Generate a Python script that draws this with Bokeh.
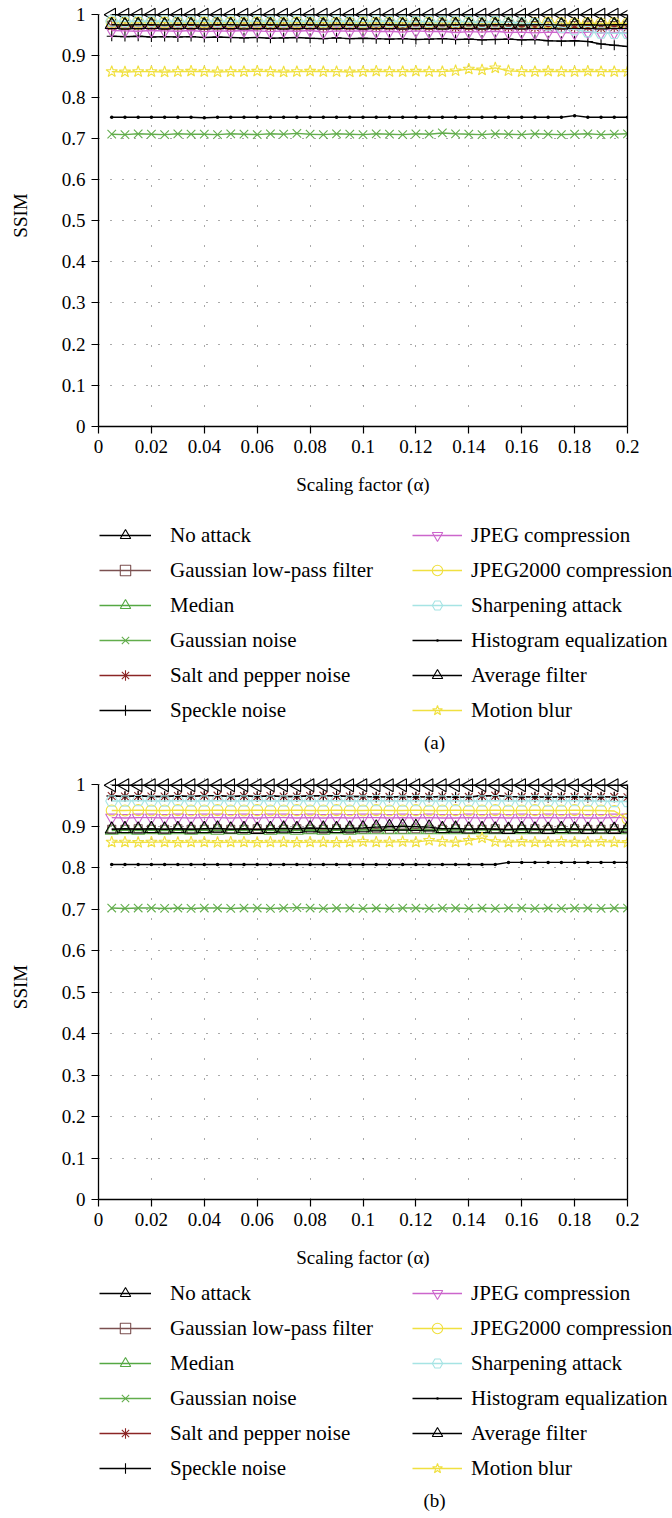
import math
import numpy as np
from bokeh.plotting import figure
from bokeh.models import Range1d, FixedTicker, LinearAxis, Legend, LegendItem, Title, ColumnDataSource
from bokeh.layouts import column
from bokeh.embed import file_html
from bokeh.resources import INLINE

# ---------------- data ----------------
alpha = [0.005, 0.010, 0.015, 0.020, 0.025, 0.030, 0.035, 0.040, 0.045, 0.050,
         0.055, 0.060, 0.065, 0.070, 0.075, 0.080, 0.085, 0.090, 0.095, 0.100,
         0.105, 0.110, 0.115, 0.120, 0.125, 0.130, 0.135, 0.140, 0.145, 0.150,
         0.155, 0.160, 0.165, 0.170, 0.175, 0.180, 0.185, 0.190, 0.195, 0.200]

x_ticks = [0, 0.02, 0.04, 0.06, 0.08, 0.1, 0.12, 0.14, 0.16, 0.18, 0.2]
x_tick_labels = ["0", "0.02", "0.04", "0.06", "0.08", "0.1", "0.12", "0.14", "0.16", "0.18", "0.2"]
y_ticks = [0, 0.1, 0.2, 0.3, 0.4, 0.5, 0.6, 0.7, 0.8, 0.9, 1.0]
y_tick_labels = ["0", "0.1", "0.2", "0.3", "0.4", "0.5", "0.6", "0.7", "0.8", "0.9", "1"]

series_names = ["No attack", "Gaussian low-pass filter", "Median", "Gaussian noise",
                "Salt and pepper noise", "Speckle noise", "JPEG compression",
                "JPEG2000 compression", "Sharpening attack", "Histogram equalization",
                "Average filter", "Motion blur"]

# panel (a)
a_no_attack = [1.000, 1.000, 1.000, 1.000, 1.000, 1.000, 1.000, 1.000, 1.000, 1.000,
               1.000, 1.000, 1.000, 1.000, 1.000, 1.000, 1.000, 1.000, 1.000, 1.000,
               1.000, 1.000, 1.000, 1.000, 1.000, 1.000, 1.000, 1.000, 1.000, 1.000,
               1.000, 1.000, 1.000, 1.000, 1.000, 1.000, 1.000, 1.000, 1.000, 1.000]
a_glpf = [0.975, 0.974, 0.975, 0.975, 0.974, 0.975, 0.974, 0.975, 0.975, 0.974,
          0.975, 0.974, 0.975, 0.975, 0.974, 0.975, 0.975, 0.974, 0.975, 0.974,
          0.975, 0.975, 0.974, 0.975, 0.974, 0.975, 0.975, 0.974, 0.975, 0.974,
          0.974, 0.975, 0.974, 0.975, 0.974, 0.974, 0.975, 0.974, 0.974, 0.975]
a_median = [0.976, 0.976, 0.975, 0.976, 0.976, 0.975, 0.976, 0.976, 0.975, 0.976,
            0.976, 0.975, 0.976, 0.976, 0.975, 0.976, 0.976, 0.975, 0.976, 0.976,
            0.975, 0.976, 0.976, 0.975, 0.976, 0.975, 0.976, 0.976, 0.975, 0.976,
            0.975, 0.976, 0.975, 0.976, 0.975, 0.975, 0.976, 0.975, 0.975, 0.976]
a_gauss_noise = [0.710, 0.709, 0.711, 0.710, 0.709, 0.711, 0.710, 0.710, 0.709, 0.711,
                 0.710, 0.709, 0.711, 0.710, 0.712, 0.710, 0.709, 0.711, 0.710, 0.709,
                 0.711, 0.710, 0.709, 0.711, 0.710, 0.713, 0.711, 0.710, 0.709, 0.711,
                 0.710, 0.709, 0.711, 0.710, 0.709, 0.710, 0.711, 0.709, 0.710, 0.711]
a_salt_pepper = [0.972, 0.971, 0.973, 0.972, 0.970, 0.972, 0.973, 0.971, 0.972, 0.970,
                 0.972, 0.973, 0.971, 0.972, 0.970, 0.972, 0.971, 0.973, 0.972, 0.970,
                 0.971, 0.972, 0.970, 0.973, 0.971, 0.972, 0.969, 0.971, 0.970, 0.972,
                 0.970, 0.971, 0.969, 0.970, 0.971, 0.969, 0.970, 0.968, 0.970, 0.969]
a_speckle = [0.948, 0.947, 0.948, 0.946, 0.947, 0.946, 0.947, 0.945, 0.946, 0.945,
             0.944, 0.945, 0.943, 0.944, 0.945, 0.943, 0.942, 0.944, 0.942, 0.943,
             0.942, 0.941, 0.942, 0.940, 0.941, 0.942, 0.940, 0.941, 0.939, 0.940,
             0.941, 0.939, 0.940, 0.937, 0.936, 0.937, 0.935, 0.929, 0.926, 0.923]
a_jpeg = [0.962, 0.961, 0.960, 0.962, 0.961, 0.960, 0.962, 0.959, 0.961, 0.960,
          0.962, 0.961, 0.959, 0.961, 0.960, 0.962, 0.958, 0.961, 0.960, 0.961,
          0.959, 0.960, 0.958, 0.961, 0.959, 0.960, 0.957, 0.959, 0.958, 0.960,
          0.957, 0.958, 0.956, 0.958, 0.957, 0.956, 0.958, 0.956, 0.957, 0.956]
a_jpeg2000 = [0.981, 0.980, 0.981, 0.980, 0.981, 0.980, 0.980, 0.981, 0.980, 0.981,
              0.980, 0.981, 0.980, 0.980, 0.981, 0.980, 0.981, 0.980, 0.980, 0.981,
              0.980, 0.981, 0.980, 0.980, 0.981, 0.980, 0.980, 0.981, 0.980, 0.980,
              0.981, 0.980, 0.980, 0.981, 0.980, 0.979, 0.980, 0.979, 0.980, 0.979]
a_sharpening = [0.985, 0.984, 0.985, 0.984, 0.985, 0.984, 0.984, 0.985, 0.984, 0.985,
                0.984, 0.985, 0.984, 0.984, 0.985, 0.984, 0.984, 0.985, 0.984, 0.984,
                0.985, 0.984, 0.984, 0.983, 0.984, 0.983, 0.984, 0.983, 0.982, 0.983,
                0.982, 0.980, 0.978, 0.975, 0.970, 0.964, 0.959, 0.956, 0.955, 0.955]
a_hist_eq = [0.751, 0.751, 0.751, 0.751, 0.751, 0.751, 0.751, 0.750, 0.751, 0.751,
             0.751, 0.751, 0.751, 0.751, 0.751, 0.751, 0.751, 0.751, 0.751, 0.751,
             0.751, 0.751, 0.751, 0.751, 0.751, 0.751, 0.751, 0.751, 0.751, 0.751,
             0.751, 0.751, 0.751, 0.751, 0.751, 0.755, 0.751, 0.751, 0.751, 0.751]
a_average = [0.976, 0.975, 0.976, 0.976, 0.975, 0.976, 0.976, 0.975, 0.976, 0.976,
             0.975, 0.976, 0.976, 0.975, 0.976, 0.976, 0.975, 0.976, 0.976, 0.975,
             0.976, 0.976, 0.975, 0.976, 0.976, 0.975, 0.976, 0.976, 0.975, 0.976,
             0.976, 0.975, 0.976, 0.976, 0.975, 0.976, 0.976, 0.975, 0.976, 0.976]
a_motion_blur = [0.862, 0.861, 0.862, 0.862, 0.861, 0.862, 0.863, 0.862, 0.861, 0.862,
                 0.862, 0.863, 0.862, 0.861, 0.862, 0.863, 0.862, 0.862, 0.861, 0.862,
                 0.863, 0.862, 0.862, 0.863, 0.862, 0.862, 0.864, 0.868, 0.866, 0.871,
                 0.864, 0.862, 0.862, 0.863, 0.862, 0.862, 0.863, 0.862, 0.862, 0.862]

# panel (b)
b_no_attack = [0.999, 0.999, 0.999, 0.999, 0.999, 0.999, 0.999, 0.999, 0.999, 0.999,
               0.999, 0.999, 0.999, 0.999, 0.999, 0.999, 0.999, 0.999, 0.999, 0.999,
               0.999, 0.999, 0.999, 0.999, 0.999, 0.999, 0.999, 0.999, 0.999, 0.999,
               0.999, 0.999, 0.999, 0.999, 0.999, 0.999, 0.999, 0.999, 0.999, 0.999]
b_glpf = [0.893, 0.893, 0.894, 0.893, 0.893, 0.894, 0.893, 0.893, 0.894, 0.893,
          0.893, 0.894, 0.893, 0.893, 0.894, 0.893, 0.893, 0.894, 0.893, 0.893,
          0.894, 0.893, 0.893, 0.894, 0.893, 0.893, 0.894, 0.893, 0.893, 0.894,
          0.893, 0.893, 0.894, 0.893, 0.893, 0.894, 0.893, 0.893, 0.894, 0.893]
b_median = [0.890, 0.891, 0.890, 0.891, 0.890, 0.891, 0.890, 0.891, 0.890, 0.891,
            0.890, 0.891, 0.890, 0.891, 0.890, 0.891, 0.890, 0.891, 0.890, 0.891,
            0.891, 0.891, 0.891, 0.891, 0.891, 0.891, 0.891, 0.891, 0.891, 0.891,
            0.891, 0.891, 0.891, 0.891, 0.891, 0.891, 0.891, 0.891, 0.891, 0.891]
b_gauss_noise = [0.703, 0.702, 0.703, 0.703, 0.702, 0.703, 0.702, 0.703, 0.703, 0.702,
                 0.703, 0.703, 0.702, 0.703, 0.704, 0.703, 0.702, 0.703, 0.703, 0.702,
                 0.703, 0.702, 0.703, 0.703, 0.702, 0.703, 0.703, 0.702, 0.703, 0.702,
                 0.703, 0.703, 0.702, 0.703, 0.702, 0.703, 0.703, 0.702, 0.703, 0.703]
b_salt_pepper = [0.973, 0.972, 0.973, 0.972, 0.972, 0.973, 0.972, 0.974, 0.974, 0.972,
                 0.973, 0.972, 0.973, 0.972, 0.972, 0.973, 0.974, 0.973, 0.972, 0.972,
                 0.971, 0.971, 0.972, 0.971, 0.971, 0.972, 0.970, 0.971, 0.973, 0.974,
                 0.972, 0.971, 0.971, 0.970, 0.971, 0.971, 0.970, 0.971, 0.971, 0.970]
b_speckle = [0.973, 0.972, 0.973, 0.972, 0.972, 0.973, 0.972, 0.974, 0.974, 0.972,
             0.973, 0.972, 0.973, 0.972, 0.972, 0.973, 0.974, 0.973, 0.972, 0.972,
             0.971, 0.971, 0.972, 0.971, 0.971, 0.972, 0.970, 0.971, 0.973, 0.974,
             0.972, 0.971, 0.971, 0.970, 0.971, 0.971, 0.970, 0.971, 0.971, 0.970]
b_jpeg = [0.921, 0.920, 0.921, 0.921, 0.920, 0.921, 0.920, 0.921, 0.921, 0.920,
          0.921, 0.920, 0.921, 0.921, 0.920, 0.921, 0.920, 0.921, 0.920, 0.921,
          0.921, 0.920, 0.921, 0.920, 0.921, 0.920, 0.920, 0.921, 0.920, 0.921,
          0.920, 0.921, 0.920, 0.921, 0.920, 0.921, 0.920, 0.920, 0.921, 0.921]
b_jpeg2000 = [0.938, 0.938, 0.939, 0.938, 0.938, 0.939, 0.938, 0.938, 0.939, 0.938,
              0.938, 0.939, 0.938, 0.938, 0.939, 0.938, 0.938, 0.939, 0.938, 0.938,
              0.939, 0.938, 0.938, 0.939, 0.938, 0.938, 0.939, 0.938, 0.938, 0.939,
              0.938, 0.938, 0.939, 0.938, 0.938, 0.939, 0.938, 0.938, 0.937, 0.918]
b_sharpening = [0.961, 0.961, 0.962, 0.961, 0.961, 0.962, 0.961, 0.961, 0.962, 0.961,
                0.961, 0.962, 0.961, 0.961, 0.962, 0.961, 0.961, 0.962, 0.961, 0.961,
                0.962, 0.961, 0.961, 0.962, 0.961, 0.961, 0.962, 0.961, 0.961, 0.962,
                0.961, 0.961, 0.962, 0.961, 0.961, 0.962, 0.961, 0.961, 0.960, 0.960]
b_hist_eq = [0.808, 0.808, 0.808, 0.808, 0.808, 0.808, 0.808, 0.808, 0.808, 0.808,
             0.808, 0.808, 0.808, 0.808, 0.808, 0.808, 0.808, 0.808, 0.808, 0.808,
             0.808, 0.808, 0.808, 0.808, 0.808, 0.808, 0.808, 0.808, 0.808, 0.808,
             0.813, 0.813, 0.813, 0.813, 0.813, 0.813, 0.813, 0.813, 0.813, 0.813]
b_average = [0.893, 0.894, 0.893, 0.894, 0.893, 0.894, 0.893, 0.894, 0.895, 0.893,
             0.894, 0.892, 0.894, 0.895, 0.894, 0.896, 0.895, 0.894, 0.895, 0.896,
             0.898, 0.899, 0.900, 0.899, 0.898, 0.894, 0.895, 0.893, 0.894, 0.893,
             0.892, 0.894, 0.893, 0.892, 0.894, 0.893, 0.892, 0.893, 0.892, 0.895]
b_motion_blur = [0.862, 0.862, 0.861, 0.862, 0.862, 0.861, 0.862, 0.862, 0.861, 0.862,
                 0.862, 0.861, 0.862, 0.862, 0.861, 0.862, 0.862, 0.861, 0.862, 0.863,
                 0.862, 0.862, 0.863, 0.862, 0.866, 0.863, 0.862, 0.866, 0.872, 0.863,
                 0.862, 0.863, 0.862, 0.862, 0.863, 0.862, 0.862, 0.863, 0.862, 0.861]

panel_a = [a_no_attack, a_glpf, a_median, a_gauss_noise, a_salt_pepper, a_speckle,
           a_jpeg, a_jpeg2000, a_sharpening, a_hist_eq, a_average, a_motion_blur]
panel_b = [b_no_attack, b_glpf, b_median, b_gauss_noise, b_salt_pepper, b_speckle,
           b_jpeg, b_jpeg2000, b_sharpening, b_hist_eq, b_average, b_motion_blur]

# ---------------- styles ----------------
FONT = "Liberation Serif"
styles = [
    dict(marker="triangle", color="#000000", size=13, angle=math.pi / 2, fill=None),
    dict(marker="square", color="#7b5050", size=8, angle=0.0, fill=None),
    dict(marker="triangle", color="#55a843", size=13, angle=0.0, fill=None),
    dict(marker="x", color="#62ad4c", size=12, angle=0.0, fill=None),
    dict(marker="asterisk", color="#8b2525", size=11, angle=0.0, fill=None),
    dict(marker="cross", color="#000000", size=10, angle=0.0, fill=None),
    dict(marker="inverted_triangle", color="#cc66cc", size=12, angle=0.0, fill=None),
    dict(marker="circle", color="#f0e040", size=11, angle=0.0, fill=None),
    dict(marker="hex", color="#a6e4e4", size=12, angle=0.0, fill=None),
    dict(marker="dot", color="#000000", size=14, angle=0.0, fill="#000000"),
    dict(marker="triangle", color="#000000", size=13, angle=0.0, fill=None),
    dict(marker="star", color="#f0e040", size=12, angle=0.0, fill=None),
]


def add_series(p, xs, ys, st):
    src = ColumnDataSource(dict(x=xs, y=ys))
    lr = p.line("x", "y", source=src, line_color=st["color"], line_width=1.4)
    sr = p.scatter("x", "y", source=src, marker=st["marker"], size=st["size"],
                   angle=st["angle"], line_color=st["color"], line_width=1.1,
                   fill_color=st["fill"])
    return lr, sr


def build_plot(values, frame_top, frame_h, bottom):
    p = figure(frame_width=529, frame_height=frame_h,
               x_range=Range1d(0, 0.2), y_range=Range1d(0, 1.025),
               output_backend="svg", toolbar_location=None,
               min_border_left=98, min_border_right=45, min_border_top=frame_top,
               min_border_bottom=bottom,
               x_axis_label="Scaling factor (\u03b1)", y_axis_label="SSIM")
    p.outline_line_color = None

    for ax in (p.xaxis[0], p.yaxis[0]):
        ax.axis_line_color = "black"
        ax.axis_line_width = 1.3
        ax.major_tick_line_color = "black"
        ax.major_tick_line_width = 1.2
        ax.major_tick_in = 0
        ax.major_tick_out = 7
        ax.minor_tick_line_color = None
        ax.major_label_text_font = FONT
        ax.major_label_text_font_size = "19px"
        ax.major_label_text_color = "black"
        ax.axis_label_text_font = FONT
        ax.axis_label_text_font_size = "19px"
        ax.axis_label_text_font_style = "normal"
        ax.axis_label_text_color = "black"
        ax.major_label_standoff = 6

    p.xaxis.ticker = FixedTicker(ticks=x_ticks)
    p.xaxis.major_label_overrides = {t: l for t, l in zip(x_ticks, x_tick_labels)}
    p.xaxis.bounds = (0, 0.2)
    p.xaxis.axis_label_standoff = 18
    p.yaxis.ticker = FixedTicker(ticks=y_ticks)
    p.yaxis.major_label_overrides = {t: l for t, l in zip(y_ticks, y_tick_labels)}
    p.yaxis.bounds = (0, 1)
    p.yaxis.axis_label_standoff = 28

    right = LinearAxis(ticker=FixedTicker(ticks=[]), bounds=(0, 1),
                       axis_line_color="black", axis_line_width=1.3,
                       major_tick_line_color=None, minor_tick_line_color=None,
                       major_label_text_font_size="0px")
    p.add_layout(right, "right")

    p.xgrid.grid_line_color = "#555555"
    p.xgrid.grid_line_dash = "1 19"
    p.ygrid.grid_line_color = "#555555"
    p.ygrid.grid_line_dash = "1 11"

    for vals, st in zip(values, styles):
        add_series(p, alpha, vals, st)
    return p


def build_legend(caption, frame_h, bottom):
    lf = figure(frame_width=672, frame_height=frame_h,
                x_range=Range1d(0, 1), y_range=Range1d(0, 1),
                min_border_left=0, min_border_right=0, min_border_top=0,
                min_border_bottom=bottom, x_axis_type=None, y_axis_type=None,
                output_backend="svg", toolbar_location=None)
    lf.outline_line_color = None
    lf.grid.visible = False

    # legend-only renderers: one undefined (NaN) sample so that nothing is plotted
    items = []
    for name, st in zip(series_names, styles):
        lr, sr = add_series(lf, np.array([np.nan]), np.array([np.nan]), st)
        items.append(LegendItem(label=name, renderers=[lr, sr]))

    common = dict(padding=0, margin=0, spacing=9, glyph_height=26, label_height=26,
                  label_text_font=FONT, label_text_font_size="21px",
                  label_text_color="black", border_line_color=None,
                  background_fill_alpha=0)
    left = Legend(items=items[:6], location=(99, 0), glyph_width=52,
                  label_standoff=19, **common)
    rightl = Legend(items=items[6:], location=(412, 0), glyph_width=50,
                    label_standoff=9, **common)
    lf.add_layout(left, "center")
    lf.add_layout(rightl, "center")

    t = Title(text=caption, align="center", offset=5, standoff=12,
              text_font=FONT, text_font_size="19px", text_font_style="normal",
              text_color="black")
    lf.add_layout(t, "below")
    return lf


fa = build_plot(panel_a, 4, 422, 96)
la = build_legend("(a)", 201, 37)
fb = build_plot(panel_b, 14, 425, 81)
lb = build_legend("(b)", 201, 37)

page = column(fa, la, fb, lb, spacing=0)
open("out.html", "w").write(file_html(page, INLINE))
